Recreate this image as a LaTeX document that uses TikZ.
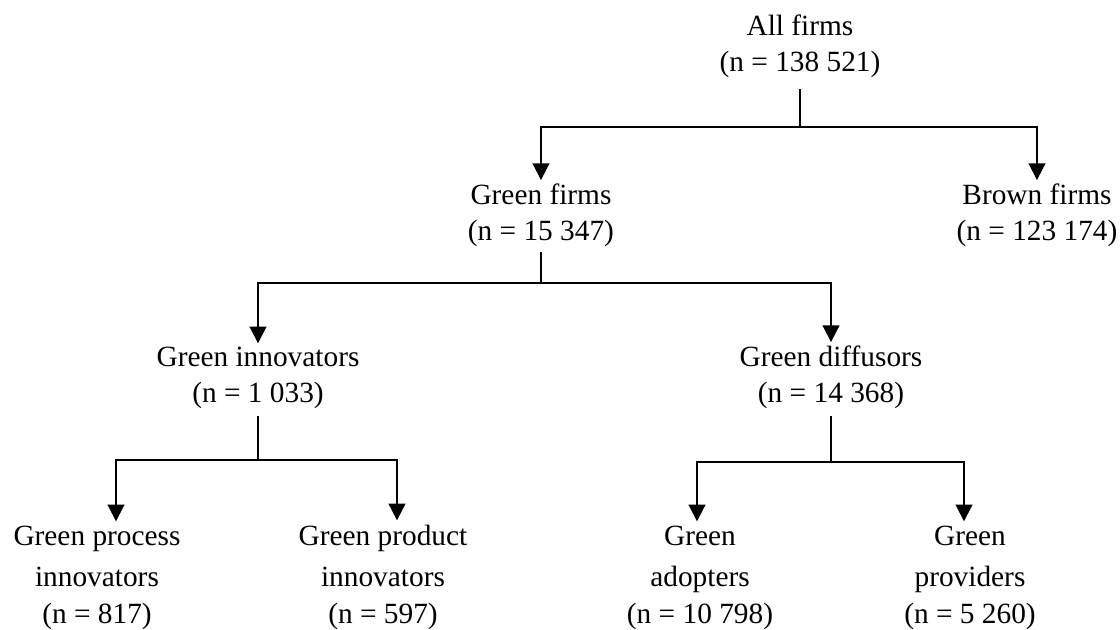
\documentclass[tikz,border=0pt]{standalone}
\usepackage{fontspec}
\setmainfont{Liberation Serif}
\usetikzlibrary{arrows.meta}
\begin{document}
\begin{tikzpicture}[x=0.75pt,y=-0.75pt,
  lbl/.style={align=center,anchor=base,inner sep=3pt,font=\fontsize{22}{27}\selectfont},
  conn/.style={line width=1.4pt},
  arr/.style={conn,-{Triangle[width=12.5pt,length=12.5pt]}}]
\useasboundingbox (0,0) rectangle (1120,630);
% nodes (anchor = baseline of last line)
\node[lbl] (all)   at (800,72)  {All firms\\(n = 138 521)};
\node[lbl] (green) at (541,241) {Green firms\\(n = 15 347)};
\node[lbl] (brown) at (1037,241) {Brown firms\\(n = 123 174)};
\node[lbl] (innov) at (258,403) {Green innovators\\(n = 1 033)};
\node[lbl] (diff)  at (831,403) {Green diffusors\\(n = 14 368)};
\node[lbl] (proc)  at (97,623)  {Green process\\[3.75pt]innovators\\[0.75pt](n = 817)};
\node[lbl] (prod)  at (383,623) {Green product\\[3.75pt]innovators\\[0.75pt](n = 597)};
\node[lbl] (adopt) at (700,623) {Green\\[3.75pt]adopters\\[0.75pt](n = 10 798)};
\node[lbl] (prov)  at (970,623) {Green\\[3.75pt]providers\\[0.75pt](n = 5 260)};
% junctions
\coordinate (j1) at (800,127);
\coordinate (j2) at (541,283);
\coordinate (j3) at (258,460);
\coordinate (j4) at (831,462);
\coordinate (pL) at (116,460);
\coordinate (pR) at (397,460);
\coordinate (aL) at (697,462);
\coordinate (aR) at (964,462);
% connectors
\draw[conn,shorten <=5pt] (all.south) -- (j1);
\draw[arr] (j1) -| (green.north);
\draw[arr] (j1) -| (brown.north);
\draw[conn] (green.south) -- (j2);
\draw[arr] (j2) -| (innov.north);
\draw[arr] (j2) -| (diff.north);
\draw[conn,shorten <=2pt] (innov.south) -- (j3);
\draw[arr] (j3) -- (pL) -- (pL |- proc.north);
\draw[arr] (j3) -- (pR) -- (pR |- prod.north);
\draw[conn,shorten <=2pt] (diff.south) -- (j4);
\draw[arr] (j4) -- (aL) -- (aL |- adopt.north);
\draw[arr] (j4) -- (aR) -- (aR |- prov.north);
\end{tikzpicture}
\end{document}
